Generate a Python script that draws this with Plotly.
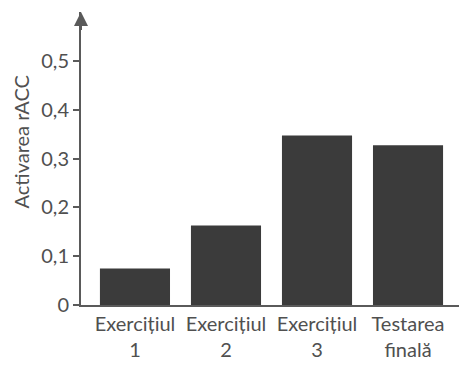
import plotly.graph_objects as go

categories = ["Exercițiul<br>1", "Exercițiul<br>2", "Exercițiul<br>3", "Testarea<br>finală"]
values = [0.075, 0.163, 0.347, 0.327]
y_tickvals = [0, 0.1, 0.2, 0.3, 0.4, 0.5]
y_ticktext = ["0", "0,1", "0,2", "0,3", "0,4", "0,5"]

axis_col = "#5a5a5a"
text_col = "#505050"
font_fam = "Lato, Open Sans, sans-serif"
fsize = 20

# page body has an 8px default margin; compensate so plot sits where reference does
W, H = 459, 357
ml, mt, mb, mr = 73, 4, 60, 0
plot_w = W - ml - mr
plot_h = H - mt - mb

fig = go.Figure()
fig.add_trace(go.Bar(
    x=list(range(len(categories))), y=values,
    marker=dict(color="#3b3b3b", line=dict(width=0)),
    width=0.77,
))

fig.update_layout(
    width=W, height=H,
    margin=dict(l=ml, r=mr, t=mt, b=mb, autoexpand=False),
    plot_bgcolor="white", paper_bgcolor="white",
    showlegend=False,
    font=dict(family=font_fam, size=fsize, color=text_col),
    xaxis=dict(
        range=[-0.593, 3.648],
        tickvals=list(range(len(categories))), ticktext=categories,
        showline=True, linecolor=axis_col, linewidth=2,
        showgrid=False, zeroline=False, ticks="",
        tickfont=dict(family=font_fam, size=fsize, color=text_col),
    ),
    yaxis=dict(
        range=[0, 0.6],
        tickvals=y_tickvals, ticktext=y_ticktext,
        showline=True, linecolor=axis_col, linewidth=2,
        showgrid=False, zeroline=False,
        ticks="outside", ticklen=6, tickwidth=2, tickcolor=axis_col,
        tickfont=dict(family=font_fam, size=fsize, color=text_col),
    ),
)

fig.add_annotation(
    x=-0.593, y=0.6, ax=-0.593, ay=0.56,
    xref="x", yref="y", axref="x", ayref="y",
    showarrow=True, arrowhead=2, arrowsize=1.4, arrowwidth=2,
    arrowcolor=axis_col, text="",
)

fig.add_annotation(
    text="Activarea rACC", textangle=-90,
    xref="paper", yref="paper",
    x=(12.5 - ml) / plot_w, y=(mt + plot_h - 134) / plot_h,
    xanchor="center", yanchor="middle", showarrow=False,
    borderpad=0,
    font=dict(family=font_fam, size=20, color=text_col),
)

fig.write_html("out.html")
